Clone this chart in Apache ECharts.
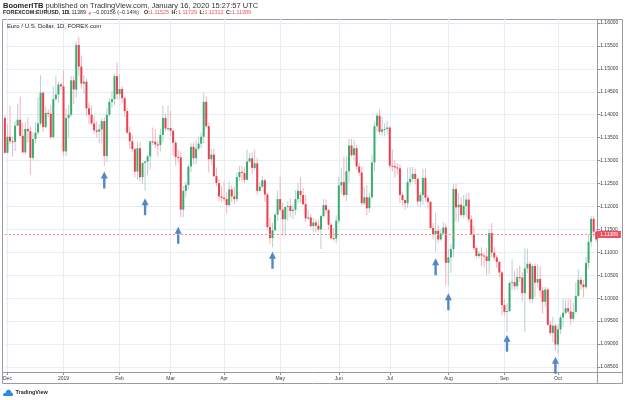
<!DOCTYPE html>
<html lang="en">
<head>
    <meta charset="UTF-8">
    <title>EUR/USD 1D</title>
    <script src="https://cdn.jsdelivr.net/npm/echarts@6/dist/echarts.min.js"></script>
    <style>
        html, body { margin: 0; padding: 0; background: #fff; }
        #main { width: 625px; height: 400px; }
    </style>
</head>
<body>
<div id="main"></div>
<script>
// trading days (weekdays) from 2018-11-30 to 2019-10-22
var dates = [];
for (var d = new Date(Date.UTC(2018, 10, 30)); d <= new Date(Date.UTC(2019, 9, 22)); d.setUTCDate(d.getUTCDate() + 1)) {
    var wd = d.getUTCDay();
    if (wd !== 0 && wd !== 6) dates.push(d.toISOString().slice(0, 10));
}

var opens = [1.1393,
    // Dec
    1.1317,1.1352,1.1342,1.1341,1.1376, 1.1389,1.1354,1.1318,1.1369,1.1364,
    1.1306,1.1347,1.1361,1.1381,1.1448, 1.1373,1.1404,1.1402,1.1351,1.1434, 1.1444,
    // Jan
    1.1466,1.1462,1.1320,1.1393, 1.1400,1.1475,1.1455,1.1552,1.1505,
    1.1468,1.1472,1.1414,1.1400,1.1381, 1.1366,1.1363,1.1368,1.1386,1.1310, 1.1400,1.1428,1.1434,1.1484,
    // Feb
    1.1445, 1.1456,1.1436,1.1408,1.1361,1.1342, 1.1325,1.1276,1.1327,1.1264,1.1295,
    1.1298,1.1309,1.1342,1.1341,1.1335, 1.1334,1.1356,1.1393,1.1370,
    // Mar
    1.1371, 1.1365,1.1339,1.1308,1.1307,1.1193, 1.1234,1.1247,1.1287,1.1330,1.1305,
    1.1326,1.1337,1.1352,1.1428,1.1375, 1.1303,1.1313,1.1266,1.1251,1.1222,
    // Apr
    1.1219,1.1216,1.1203,1.1237,1.1222, 1.1216,1.1264,1.1275,1.1273,1.1258,
    1.1298,1.1305,1.1284,1.1294,1.1234, 1.1243,1.1257,1.1226,1.1155,1.1131, 1.1148,1.1182,
    // May
    1.1216,1.1193,1.1172, 1.1199,1.1201,1.1190,1.1193,1.1216, 1.1234,1.1225,1.1205,1.1174,1.1176,
    1.1157,1.1165,1.1158,1.1150,1.1179, 1.1203,1.1192,1.1160,1.1131,1.1130,
    // Jun
    1.1169,1.1246,1.1253,1.1225,1.1277, 1.1333,1.1312,1.1327,1.1287,1.1274,
    1.1207,1.1220,1.1196,1.1220,1.1296, 1.1375,1.1398,1.1363,1.1368,1.1369,
    // Jul
    1.1372,1.1289,1.1288,1.1285,1.1283, 1.1225,1.1214,1.1207,1.1253,1.1260,
    1.1271,1.1260,1.1211,1.1225,1.1262, 1.1219,1.1210,1.1153,1.1140,1.1147, 1.1128,1.1141,1.1154,
    // Aug
    1.1077,1.1089, 1.1107,1.1238,1.1198,1.1204,1.1181, 1.1201,1.1215,1.1172,1.1139,1.1109,
    1.1092,1.1097,1.1093,1.1091,1.1081, 1.1142,1.1099,1.1089,1.1079,1.1056,
    // Sep
    1.0985,1.0970,1.0972,1.1033,1.1035, 1.1026,1.1046,1.1045,1.1011,1.1065,
    1.1075,1.0998,1.1070,1.1034,1.1042, 1.1017,1.0992,1.1019,1.0942,1.0924, 1.0940,
    // Oct
    1.0899,1.0932,1.0958,1.0968, 1.0978,1.0971,1.0955,1.0970,1.1005,
    1.1040,1.1030,1.1024,1.1077,1.1123, 1.1173,1.1145];

var highs = [1.1400,
    1.1379,1.1420,1.1352,1.1386,1.1424, 1.1440,1.1382,1.1384,1.1394,1.1376,
    1.1362,1.1384,1.1438,1.1486,1.1450, 1.1418,1.1412,1.1420,1.1462,1.1485, 1.1471,
    1.1470,1.1497,1.1414,1.1421, 1.1484,1.1485,1.1560,1.1570,1.1529,
    1.1486,1.1479,1.1426,1.1419,1.1397, 1.1386,1.1379,1.1392,1.1394,1.1416, 1.1436,1.1451,1.1488,1.1514,
    1.1488, 1.1462,1.1440,1.1414,1.1375,1.1356, 1.1328,1.1341,1.1340,1.1296,1.1299,
    1.1314,1.1343,1.1372,1.1368,1.1344, 1.1370,1.1420,1.1402,1.1419,
    1.1408, 1.1368,1.1344,1.1323,1.1320,1.1245, 1.1255,1.1292,1.1338,1.1340,1.1345,
    1.1353,1.1362,1.1448,1.1440,1.1383, 1.1325,1.1327,1.1285,1.1260,1.1245,
    1.1256,1.1232,1.1255,1.1246,1.1243, 1.1273,1.1288,1.1289,1.1286,1.1324,
    1.1317,1.1318,1.1324,1.1306,1.1253, 1.1266,1.1261,1.1230,1.1175,1.1164, 1.1187,1.1235,
    1.1265,1.1208,1.1200, 1.1212,1.1218,1.1205,1.1235,1.1251, 1.1264,1.1240,1.1225,1.1191,1.1183,
    1.1175,1.1171,1.1169,1.1182,1.1216, 1.1215,1.1195,1.1165,1.1153,1.1181,
    1.1264,1.1285,1.1307,1.1309,1.1347, 1.1347,1.1346,1.1334,1.1296,1.1287,
    1.1243,1.1247,1.1229,1.1313,1.1385, 1.1404,1.1412,1.1395,1.1382,1.1387,
    1.1375,1.1325,1.1302,1.1295,1.1292, 1.1230,1.1215,1.1285,1.1286,1.1286,
    1.1282,1.1262,1.1231,1.1283,1.1282, 1.1225,1.1212,1.1164,1.1187,1.1159, 1.1150,1.1166,1.1163,
    1.1107,1.1117, 1.1249,1.1250,1.1229,1.1220,1.1225, 1.1229,1.1230,1.1180,1.1158,1.1113,
    1.1103,1.1111,1.1098,1.1110,1.1151, 1.1164,1.1112,1.1094,1.1082,1.1060,
    1.0999,1.0989,1.1037,1.1085,1.1060, 1.1066,1.1071,1.1057,1.1109,1.1108,
    1.1080,1.1075,1.1075,1.1074,1.1070, 1.1025,1.1025,1.1023,1.0951,1.0960, 1.0945,
    1.0943,1.0963,1.0999,1.0997, 1.0999,1.0997,1.0990,1.1034,1.1063,
    1.1046,1.1039,1.1090,1.1139,1.1179, 1.1179,1.1152];

var lows = [1.1315,
    1.1316,1.1336,1.1309,1.1321,1.1375, 1.1353,1.1316,1.1313,1.1340,1.1269,
    1.1300,1.1338,1.1355,1.1376,1.1362, 1.1371,1.1395,1.1346,1.1348,1.1430, 1.1426,
    1.1455,1.1309,1.1309,1.1351, 1.1395,1.1424,1.1437,1.1484,1.1456,
    1.1446,1.1396,1.1379,1.1376,1.1358, 1.1350,1.1338,1.1338,1.1289,1.1296, 1.1396,1.1416,1.1420,1.1433,
    1.1433, 1.1425,1.1395,1.1358,1.1325,1.1318, 1.1264,1.1259,1.1255,1.1249,1.1234,
    1.1268,1.1280,1.1334,1.1327,1.1309, 1.1320,1.1340,1.1364,1.1364,
    1.1354, 1.1310,1.1290,1.1294,1.1176,1.1177, 1.1220,1.1237,1.1275,1.1292,1.1292,
    1.1322,1.1327,1.1337,1.1370,1.1274, 1.1291,1.1264,1.1244,1.1212,1.1210,
    1.1210,1.1184,1.1198,1.1210,1.1204, 1.1210,1.1255,1.1254,1.1251,1.1257,
    1.1294,1.1270,1.1279,1.1226,1.1232, 1.1241,1.1211,1.1150,1.1118,1.1111, 1.1147,1.1168,
    1.1188,1.1135,1.1135, 1.1168,1.1177,1.1172,1.1181,1.1206, 1.1208,1.1202,1.1166,1.1170,1.1154,
    1.1143,1.1143,1.1146,1.1107,1.1176, 1.1185,1.1149,1.1129,1.1125,1.1119,
    1.1163,1.1227,1.1220,1.1212,1.1251, 1.1307,1.1301,1.1280,1.1267,1.1202,
    1.1203,1.1181,1.1186,1.1218,1.1277, 1.1362,1.1357,1.1354,1.1353,1.1357,
    1.1284,1.1276,1.1263,1.1270,1.1207, 1.1202,1.1193,1.1197,1.1244,1.1253,
    1.1249,1.1201,1.1200,1.1203,1.1210, 1.1195,1.1151,1.1128,1.1101,1.1120, 1.1125,1.1138,1.1027,
    1.1027,1.1055, 1.1090,1.1167,1.1167,1.1180,1.1175, 1.1177,1.1165,1.1137,1.1105,1.1087,
    1.1087,1.1070,1.1067,1.1050,1.1052, 1.1090,1.1081,1.1066,1.1045,1.0963,
    1.0960,1.0926,1.0970,1.1018,1.1017, 1.1019,1.1035,1.0993,1.0927,1.1055,
    1.0991,1.0990,1.1002,1.1023,1.1002, 1.0966,1.0980,1.0940,1.0919,1.0904, 1.0885,
    1.0879,1.0922,1.0937,1.0964, 1.0966,1.0941,1.0951,1.0966,1.1003,
    1.1019,1.1002,1.1020,1.1063,1.1111, 1.1135,1.1123];

var closes = [1.1317,
    1.1352,1.1342,1.1341,1.1376,1.1389, 1.1354,1.1318,1.1369,1.1364,1.1306,
    1.1347,1.1361,1.1381,1.1448,1.1373, 1.1404,1.1402,1.1351,1.1434,1.1444, 1.1466,
    1.1462,1.1320,1.1393,1.1400, 1.1475,1.1455,1.1552,1.1505,1.1468,
    1.1472,1.1414,1.1400,1.1381,1.1366, 1.1363,1.1368,1.1386,1.1310,1.1400, 1.1428,1.1434,1.1484,1.1445,
    1.1456, 1.1436,1.1408,1.1361,1.1342,1.1325, 1.1276,1.1327,1.1264,1.1295,1.1298,
    1.1309,1.1342,1.1341,1.1335,1.1334, 1.1356,1.1393,1.1370,1.1371,
    1.1365, 1.1339,1.1308,1.1307,1.1193,1.1234, 1.1247,1.1287,1.1330,1.1305,1.1326,
    1.1337,1.1352,1.1428,1.1375,1.1303, 1.1313,1.1266,1.1251,1.1222,1.1219,
    1.1216,1.1203,1.1237,1.1222,1.1216, 1.1264,1.1275,1.1273,1.1258,1.1298,
    1.1305,1.1284,1.1294,1.1234,1.1243, 1.1257,1.1226,1.1155,1.1131,1.1148, 1.1182,1.1216,
    1.1193,1.1172,1.1199, 1.1201,1.1190,1.1193,1.1216,1.1234, 1.1225,1.1205,1.1174,1.1176,1.1157,
    1.1165,1.1158,1.1150,1.1179,1.1203, 1.1192,1.1160,1.1131,1.1130,1.1169,
    1.1246,1.1253,1.1225,1.1277,1.1333, 1.1312,1.1327,1.1287,1.1274,1.1207,
    1.1220,1.1196,1.1220,1.1296,1.1375, 1.1398,1.1363,1.1368,1.1369,1.1372,
    1.1289,1.1288,1.1285,1.1283,1.1225, 1.1214,1.1207,1.1253,1.1260,1.1271,
    1.1260,1.1211,1.1225,1.1262,1.1219, 1.1210,1.1153,1.1140,1.1147,1.1128, 1.1141,1.1154,1.1077,
    1.1089,1.1107, 1.1238,1.1198,1.1204,1.1181,1.1201, 1.1215,1.1172,1.1139,1.1109,1.1092,
    1.1097,1.1093,1.1091,1.1081,1.1142, 1.1099,1.1089,1.1079,1.1056,1.0985,
    1.0970,1.0972,1.1033,1.1035,1.1026, 1.1046,1.1045,1.1011,1.1065,1.1075,
    1.0998,1.1070,1.1034,1.1042,1.1017, 1.0992,1.1019,1.0942,1.0924,1.0940, 1.0899,
    1.0932,1.0958,1.0968,1.0978, 1.0971,1.0955,1.0970,1.1005,1.1040,
    1.1030,1.1024,1.1077,1.1123,1.1173, 1.1145,1.1128];

// month ticks on the time axis
var tickDates = ['2018-12-03','2019-01-02','2019-02-01','2019-03-01','2019-04-01','2019-05-01',
                 '2019-06-03','2019-07-01','2019-08-01','2019-09-02','2019-10-01'];
var tickLabels = ['Dec','2019','Feb','Mar','Apr','May','Jun','Jul','Aug','Sep','Oct'];

// blue arrows drawn under the swing lows (bar index, price at arrow tip)
var arrowIdx = [39, 55, 68, 105, 169, 174, 197, 216];
var arrowTip = [1.1276, 1.1218, 1.1156, 1.1101, 1.1087, 1.1011, 1.0920, 1.0872];

var lastPrice = 1.11389;

var bodyUp = '#38ad6c', bodyDown = '#e9404f';
var wickUp = '#b9d0d6', wickDown = '#f4b3bb';
var red = '#ef4f5d';
var font = '"Liberation Sans", Arial, sans-serif';

var candles = dates.map(function (dt, i) {
    return [i, opens[i], highs[i], lows[i], closes[i]];
});
var arrows = arrowIdx.map(function (i, k) { return [i, arrowTip[k]]; });

function isTick(index, value) {
    return tickDates.indexOf(value) >= 0;
}

function drawCandle(params, api) {
    var i = api.value(0);
    var o = api.coord([i, api.value(1)]);
    var h = api.coord([i, api.value(2)]);
    var l = api.coord([i, api.value(3)]);
    var c = api.coord([i, api.value(4)]);
    var up = api.value(4) >= api.value(1);
    var x = o[0];
    var top = Math.min(o[1], c[1]);
    var bh = Math.max(Math.abs(o[1] - c[1]), 1);
    return {
        type: 'group',
        children: [
            { type: 'rect', shape: { x: x - 0.5, y: h[1], width: 1, height: l[1] - h[1] },
              style: { fill: up ? wickUp : wickDown } },
            { type: 'rect', shape: { x: x - 1, y: top, width: 2, height: bh },
              style: { fill: up ? bodyUp : bodyDown } }
        ]
    };
}

var chart = echarts.init(document.getElementById('main'));

var frame = '#9a9ca3';
function hline(x1, x2, y) {
    return { type: 'line', silent: true, shape: { x1: x1, y1: y, x2: x2, y2: y }, style: { stroke: frame, lineWidth: 1 } };
}
function vline(x, y1, y2) {
    return { type: 'line', silent: true, shape: { x1: x, y1: y1, x2: x, y2: y2 }, style: { stroke: frame, lineWidth: 1 } };
}
function label(x, y, text, size, weight, color) {
    return {
        type: 'text', x: x, y: y, silent: true, z: 100,
        style: { text: text, fontSize: size, fontWeight: weight || 'normal', fontFamily: font,
                 fill: color || '#2a2a2a', textVerticalAlign: 'top' }
    };
}

chart.setOption({
    animation: false,
    backgroundColor: '#ffffff',
    textStyle: { fontFamily: font },
    grid: { left: 4.77, right: 28.8, top: 19, bottom: 28 },
    xAxis: {
        type: 'category',
        data: dates,
        boundaryGap: false,
        axisLine: { show: false },
        axisTick: { show: true, interval: isTick, length: 3, lineStyle: { color: '#8d8f96' } },
        axisLabel: {
            interval: isTick,
            fontSize: 5,
            color: '#3a3a3a',
            margin: 4,
            formatter: function (v) { return tickLabels[tickDates.indexOf(v)]; }
        },
        splitLine: { show: true, interval: isTick, lineStyle: { color: '#e7edf4', width: 1 } }
    },
    yAxis: {
        type: 'value',
        position: 'right',
        min: 1.083902,
        max: 1.160872,
        splitNumber: 15,
        minInterval: 0.005,
        maxInterval: 0.005,
        offset: 1,
        axisLine: { show: false },
        axisTick: { show: true, length: 3, lineStyle: { color: '#8d8f96' } },
        axisLabel: {
            fontSize: 5,
            color: '#3a3a3a',
            margin: 3,
            showMinLabel: false,
            showMaxLabel: false,
            formatter: function (v) { return v.toFixed(5); }
        },
        splitLine: { show: true, showMinLine: false, showMaxLine: false, lineStyle: { color: '#e7edf4', width: 1 } }
    },
    series: [
        {
            type: 'custom',
            name: 'EURUSD',
            renderItem: drawCandle,
            encode: { x: 0, y: [1, 2, 3, 4] },
            data: candles,
            z: 3
        },
        {
            type: 'scatter',
            name: 'arrows',
            data: arrows,
            symbol: 'path://M5 0 L10 7 L6.7 7 L6.7 17 L3.3 17 L3.3 7 L0 7 Z',
            symbolSize: [7, 17],
            symbolKeepAspect: false,
            symbolOffset: [0, '50%'],
            itemStyle: { color: '#2b6cb8' },
            z: 4,
            markLine: {
                silent: true,
                symbol: 'none',
                precision: 5,
                data: [{ yAxis: lastPrice }],
                lineStyle: { color: '#f08a94', type: [2, 2], width: 1 },
                label: {
                    show: true,
                    position: 'end',
                    distance: 1,
                    formatter: lastPrice.toFixed(5),
                    color: '#ffffff',
                    backgroundColor: red,
                    padding: [1, 3, 1, 3],
                    fontSize: 5
                }
            }
        }
    ],
    graphic: [
        hline(2.5, 622.5, 19.5),
        hline(2.5, 622.5, 372.5),
        hline(2.5, 622.5, 383.5),
        vline(2.5, 19.5, 383.5),
        vline(597.5, 19.5, 383.5),
        vline(622.5, 19.5, 383.5),
        {
            type: 'text', x: 3, y: 1.5, silent: true,
            style: {
                text: '{b|BoomerITB} published on TradingView.com, January 16, 2020 15:27:57 UTC',
                fontSize: 7.5, fontFamily: font, fill: '#333', textVerticalAlign: 'top',
                rich: { b: { fontWeight: 'bold', fontSize: 7.5, fontFamily: font, fill: '#222' } }
            }
        },
        // symbol line with OHLC values
        label(3, 10.5, 'FOREXCOM:EURUSD, 1D', 5.4, 'bold', '#222'),
        label(67, 10.5, '1.11389', 5.4),
        label(87.5, 10.8, '\u25BC', 4.6, 'normal', red),
        label(93, 10.5, '\u22120.00156 (\u22120.14%)', 5.4),
        label(144, 10.5, 'O:', 5.4, 'bold'),
        label(150, 10.5, '1.11525', 5.4, 'normal', red),
        label(171.5, 10.5, 'H:', 5.4, 'bold'),
        label(178, 10.5, '1.11729', 5.4, 'normal', red),
        label(199.5, 10.5, 'L:', 5.4, 'bold'),
        label(204.5, 10.5, '1.11312', 5.4, 'normal', red),
        label(226, 10.5, 'C:', 5.4, 'bold'),
        label(232, 10.5, '1.11389', 5.4, 'normal', red),
        label(7, 23, 'Euro / U.S. Dollar, 1D, FOREX.com', 6, 'normal', '#222'),
        {
            type: 'polygon', silent: true,
            shape: { points: [[3.5, 396], [3, 394.5], [4, 393], [5.5, 393], [6.5, 390.5], [8.5, 389.5],
                              [10.5, 390.5], [11.5, 392.5], [13, 393.5], [13, 395.5], [12, 396]] },
            style: { fill: '#2f8ae0' }
        },
        label(15.5, 389.5, 'TradingView', 5.5, 'bold')
    ]
});
</script>
</body>
</html>
